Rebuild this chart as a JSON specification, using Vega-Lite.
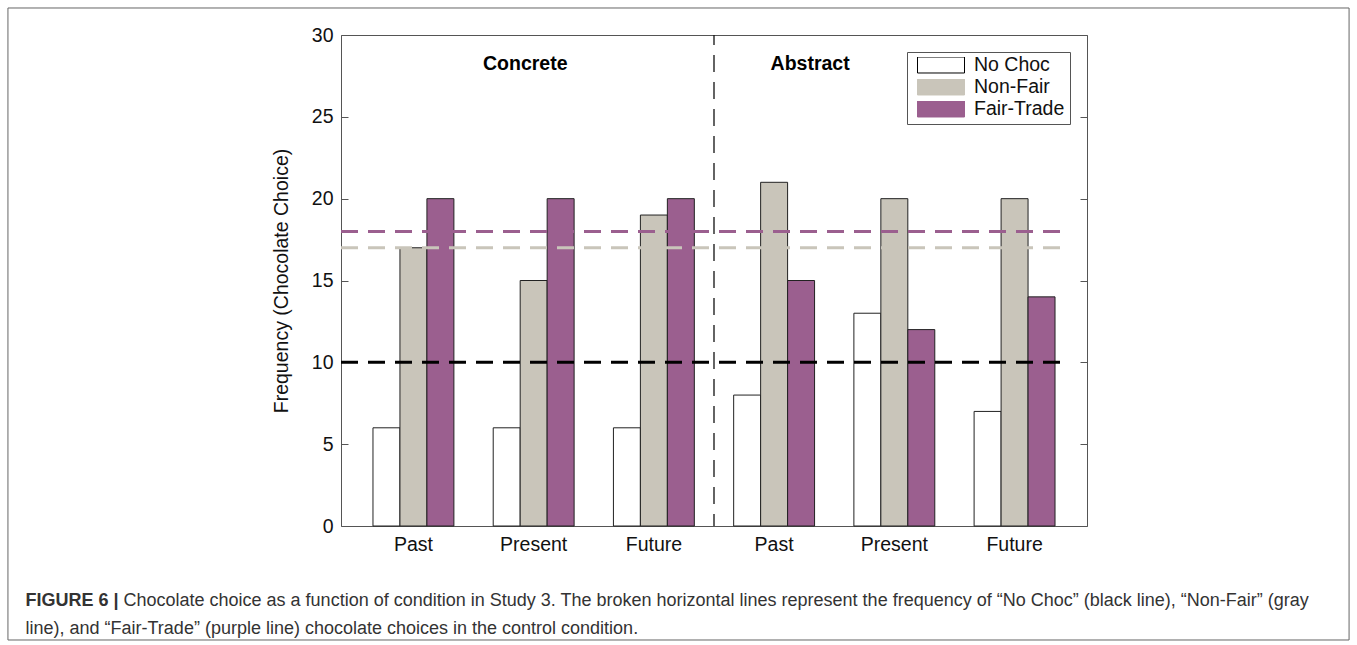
{
  "$schema": "https://vega.github.io/schema/vega-lite/v6.json",
  "width": 746,
  "height": 491,
  "autosize": {"type": "none"},
  "padding": {"left": 341, "top": 35, "right": 270, "bottom": 119},
  "background": "white",
  "datasets": {
    "bars": [
      {"cond": "Concrete", "time": "Past", "key": "Concrete|Past", "choice": "No Choc", "freq": 6},
      {"cond": "Concrete", "time": "Past", "key": "Concrete|Past", "choice": "Non-Fair", "freq": 17},
      {"cond": "Concrete", "time": "Past", "key": "Concrete|Past", "choice": "Fair-Trade", "freq": 20},
      {"cond": "Concrete", "time": "Present", "key": "Concrete|Present", "choice": "No Choc", "freq": 6},
      {"cond": "Concrete", "time": "Present", "key": "Concrete|Present", "choice": "Non-Fair", "freq": 15},
      {"cond": "Concrete", "time": "Present", "key": "Concrete|Present", "choice": "Fair-Trade", "freq": 20},
      {"cond": "Concrete", "time": "Future", "key": "Concrete|Future", "choice": "No Choc", "freq": 6},
      {"cond": "Concrete", "time": "Future", "key": "Concrete|Future", "choice": "Non-Fair", "freq": 19},
      {"cond": "Concrete", "time": "Future", "key": "Concrete|Future", "choice": "Fair-Trade", "freq": 20},
      {"cond": "Abstract", "time": "Past", "key": "Abstract|Past", "choice": "No Choc", "freq": 8},
      {"cond": "Abstract", "time": "Past", "key": "Abstract|Past", "choice": "Non-Fair", "freq": 21},
      {"cond": "Abstract", "time": "Past", "key": "Abstract|Past", "choice": "Fair-Trade", "freq": 15},
      {"cond": "Abstract", "time": "Present", "key": "Abstract|Present", "choice": "No Choc", "freq": 13},
      {"cond": "Abstract", "time": "Present", "key": "Abstract|Present", "choice": "Non-Fair", "freq": 20},
      {"cond": "Abstract", "time": "Present", "key": "Abstract|Present", "choice": "Fair-Trade", "freq": 12},
      {"cond": "Abstract", "time": "Future", "key": "Abstract|Future", "choice": "No Choc", "freq": 7},
      {"cond": "Abstract", "time": "Future", "key": "Abstract|Future", "choice": "Non-Fair", "freq": 20},
      {"cond": "Abstract", "time": "Future", "key": "Abstract|Future", "choice": "Fair-Trade", "freq": 14}
    ],
    "controls": [
      {"line": "No Choc", "freq": 10},
      {"line": "Non-Fair", "freq": 17},
      {"line": "Fair-Trade", "freq": 18}
    ],
    "conditions": [
      {"cond": "Concrete"},
      {"cond": "Abstract"}
    ]
  },
  "layer": [
    {
      "data": {"values": [{"frame": "figure"}]},
      "mark": {"type": "rect", "fill": "#ffffff", "fillOpacity": 0, "stroke": "#666666", "strokeWidth": 1},
      "encoding": {
        "x": {"datum": -2.368, "type": "quantitative", "scale": {"domain": [0.4, 6.6], "nice": false, "zero": false}, "axis": null},
        "x2": {"datum": 8.778},
        "y": {"datum": 31.65, "type": "quantitative", "axis": null},
        "y2": {"datum": -6.965}
      }
    },
    {
      "data": {"name": "bars"},
      "mark": {"type": "bar", "stroke": "#222222", "strokeWidth": 1},
      "encoding": {
        "x": {
          "field": "key",
          "type": "nominal",
          "sort": ["Concrete|Past", "Concrete|Present", "Concrete|Future", "Abstract|Past", "Abstract|Present", "Abstract|Future"],
          "scale": {"paddingInner": 0.327, "paddingOuter": 0.266},
          "axis": {
            "title": "line), and “Fair-Trade” (purple line) chocolate choices in the control condition.",
            "titleX": -316,
            "titleY": 107.5,
            "titleAlign": "left",
            "titleAnchor": null,
            "titleBaseline": "alphabetic",
            "titleFont": "Liberation Sans",
            "titleFontSize": 18,
            "titleFontWeight": "normal",
            "titleColor": "#333333",
            "labelExpr": "split(datum.label, '|')[1]",
            "labelAngle": 0,
            "ticks": false,
            "domain": false,
            "labelPadding": 9,
            "labelFontSize": 19.5,
            "labelFont": "Liberation Sans",
            "labelColor": "#111111"
          }
        },
        "xOffset": {
          "field": "choice",
          "type": "nominal",
          "sort": ["No Choc", "Non-Fair", "Fair-Trade"],
          "scale": {"paddingInner": 0, "paddingOuter": 0}
        },
        "y": {
          "field": "freq",
          "type": "quantitative",
          "scale": {"domain": [0, 30], "nice": false},
          "axis": {
            "title": "Frequency (Chocolate Choice)",
            "values": [0, 5, 10, 15, 20, 25, 30],
            "grid": false,
            "domain": false,
            "tickSize": -7,
            "tickColor": "#555555",
            "labelPadding": 15,
            "labelFontSize": 19.5,
            "labelFont": "Liberation Sans",
            "labelColor": "#111111",
            "titleFont": "Liberation Sans",
            "titleFontSize": 19.5,
            "titleFontWeight": "normal",
            "titleColor": "#111111",
            "titlePadding": 20
          }
        },
        "fill": {
          "field": "choice",
          "type": "nominal",
          "sort": ["No Choc", "Non-Fair", "Fair-Trade"],
          "scale": {"domain": ["No Choc", "Non-Fair", "Fair-Trade"], "range": ["#ffffff", "#c9c5ba", "#9b5f8f"]},
          "legend": {
            "title": null,
            "orient": "top-right",
            "offset": 17,
            "padding": 5,
            "symbolType": "M-1,-0.34H1V0.34H-1Z",
            "symbolSize": 2209,
            "symbolStrokeColor": "#222222",
            "symbolStrokeWidth": 1,
            "symbolOpacity": 1,
            "symbolOffset": 5,
            "clipHeight": 16,
            "rowPadding": 2,
            "labelOffset": 9,
            "labelFontSize": 19.5,
            "labelFont": "Liberation Sans",
            "labelColor": "#111111",
            "labelLimit": 200,
            "strokeColor": "#555555",
            "fillColor": "#ffffff"
          }
        }
      }
    },
    {
      "data": {"name": "controls"},
      "mark": {"type": "rule", "strokeWidth": 3, "strokeDash": [17, 10]},
      "encoding": {
        "x": {"datum": 0.4, "type": "quantitative", "scale": {"domain": [0.4, 6.6], "nice": false, "zero": false}, "axis": null},
        "x2": {"datum": 6.4},
        "y": {
          "field": "freq",
          "type": "quantitative",
          "axis": {
            "orient": "right",
            "title": "FIGURE 6 |",
            "titleAngle": 0,
            "titleX": -1062,
            "titleY": 570,
            "titleAlign": "left",
            "titleAnchor": null,
            "titleBaseline": "alphabetic",
            "titleFont": "Liberation Sans",
            "titleFontSize": 18,
            "titleFontWeight": "bold",
            "titleColor": "#333333",
            "labels": false,
            "domain": false,
            "grid": false,
            "values": [0, 5, 10, 15, 20, 25, 30],
            "tickSize": -7,
            "tickColor": "#555555"
          }
        },
        "stroke": {
          "field": "line",
          "type": "nominal",
          "scale": {"domain": ["No Choc", "Non-Fair", "Fair-Trade"], "range": ["#000000", "#c9c5ba", "#9b5f8f"]},
          "legend": null
        }
      }
    },
    {
      "data": {"values": [{"divider": 3.5}]},
      "mark": {"type": "rule", "color": "#111111", "strokeWidth": 1.3, "strokeDash": [17, 10], "strokeDashOffset": 7},
      "encoding": {
        "x": {
          "field": "divider",
          "type": "quantitative",
          "scale": {"domain": [0.4, 6.6], "nice": false, "zero": false},
          "axis": {
            "orient": "top",
            "labels": false,
            "ticks": false,
            "domain": false,
            "grid": false,
            "title": "Chocolate choice as a function of condition in Study 3. The broken horizontal lines represent the frequency of “No Choc” (black line), “Non-Fair” (gray",
            "titleX": -218,
            "titleY": 570,
            "titleAlign": "left",
            "titleAnchor": null,
            "titleBaseline": "alphabetic",
            "titleFont": "Liberation Sans",
            "titleFontSize": 18,
            "titleFontWeight": "normal",
            "titleColor": "#333333"
          }
        }
      }
    },
    {
      "data": {"name": "conditions"},
      "transform": [{"filter": "datum.cond === 'Concrete'"}],
      "mark": {"type": "text", "align": "left", "baseline": "middle", "font": "Liberation Sans", "fontSize": 19.5, "fontWeight": "bold", "color": "#000000"},
      "encoding": {
        "text": {"field": "cond"},
        "x": {"datum": 1.58, "type": "quantitative", "scale": {"domain": [0.4, 6.6], "nice": false, "zero": false}, "axis": null},
        "y": {"datum": 28.2, "type": "quantitative", "axis": null}
      }
    },
    {
      "data": {"name": "conditions"},
      "transform": [{"filter": "datum.cond === 'Abstract'"}],
      "mark": {"type": "text", "align": "left", "baseline": "middle", "font": "Liberation Sans", "fontSize": 19.5, "fontWeight": "bold", "color": "#000000"},
      "encoding": {
        "text": {"field": "cond"},
        "x": {"datum": 3.97, "type": "quantitative", "scale": {"domain": [0.4, 6.6], "nice": false, "zero": false}, "axis": null},
        "y": {"datum": 28.2, "type": "quantitative", "axis": null}
      }
    }
  ],
  "resolve": {"scale": {"x": "independent"}, "axis": {"x": "independent", "y": "independent"}},
  "config": {
    "view": {"stroke": "#555555", "strokeWidth": 1},
    "font": "Liberation Sans"
  }
}
